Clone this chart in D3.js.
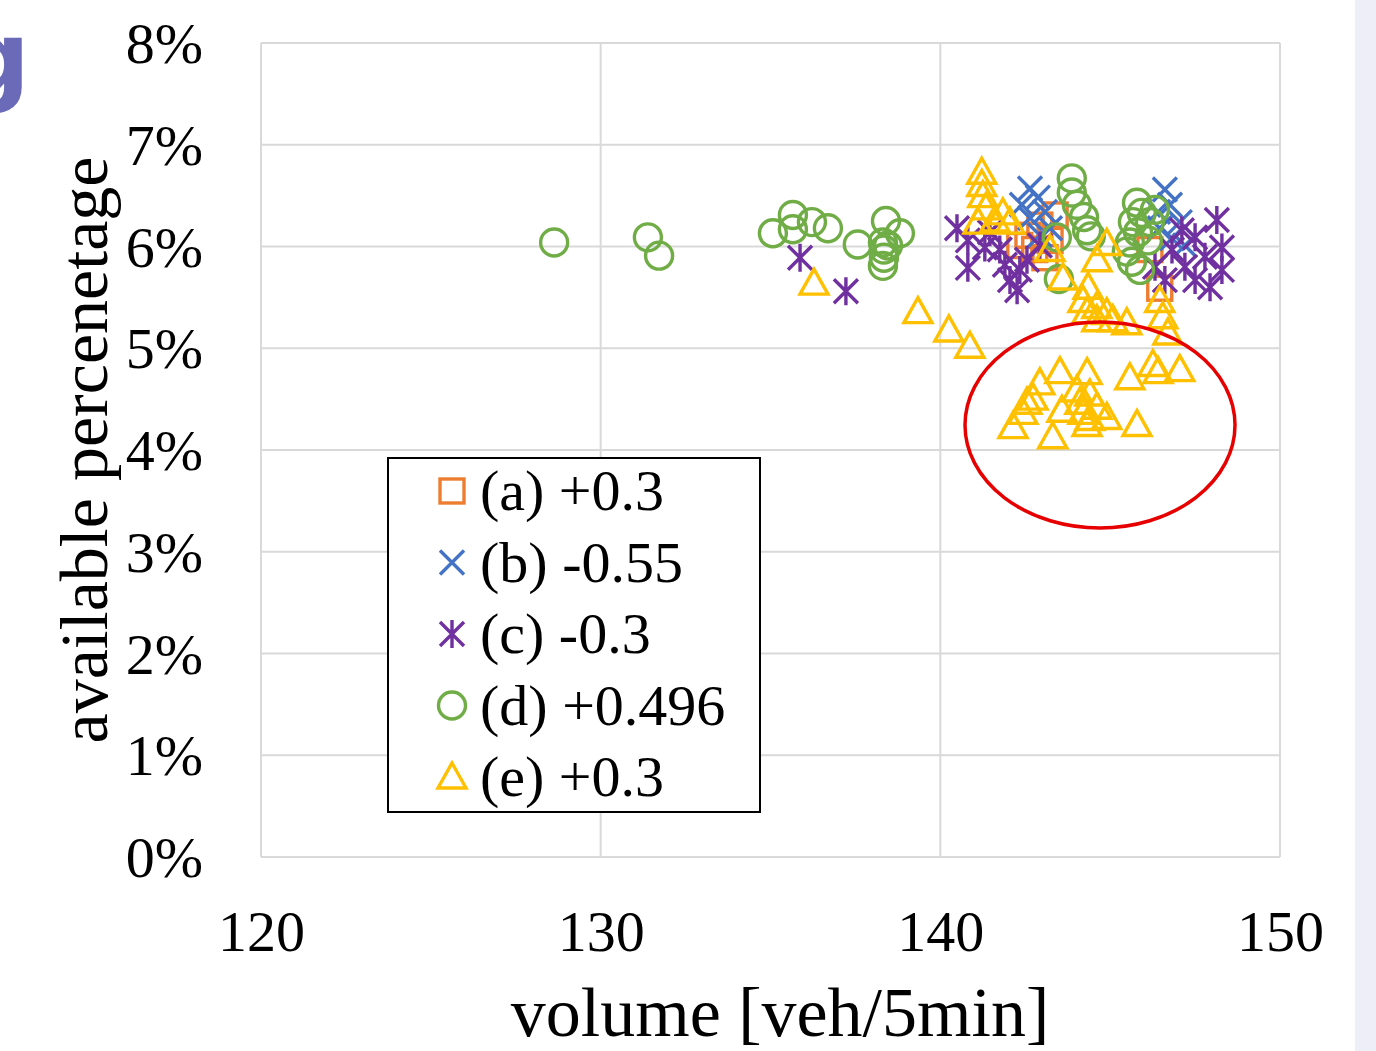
<!DOCTYPE html>
<html>
<head>
<meta charset="utf-8">
<script src="https://cdn.jsdelivr.net/npm/d3@7/dist/d3.min.js"></script>
<style>
  body { margin: 0; background: #fff; }
  svg { display: block; }
</style>
</head>
<body>
<svg id="chart" width="1376" height="1051"></svg>
<script>
// series values (volume, available %)
const aX = [142.93, 143.23, 142.78, 143.08, 142.58, 142.34, 146.46, 146.17, 143.38];
const aY = [6.21, 6.06, 5.97, 5.89, 6.11, 6.01, 5.59, 5.97, 6.31];

const bX = [142.64, 142.87, 142.40, 143.08, 142.64, 143.23, 142.93, 146.61, 146.76, 146.41, 147.05, 146.82, 146.46, 147.20];
const bY = [6.57, 6.48, 6.41, 6.34, 6.28, 6.18, 6.11, 6.56, 6.41, 6.34, 6.24, 6.08, 6.18, 6.01];

const cX = [135.87, 137.22, 140.49, 140.81, 140.81, 141.46, 141.75, 141.90, 142.05, 142.26, 142.55, 142.93, 141.31, 142.34,
            146.32, 146.82, 147.20, 147.50, 147.79, 148.14, 148.29, 148.29, 147.94, 146.61, 147.11, 147.50];
const cY = [5.89, 5.56, 6.18, 6.06, 5.79, 6.14, 5.97, 5.82, 5.67, 5.57, 5.87, 6.01, 5.99, 5.77,
            5.80, 5.97, 5.80, 6.09, 5.90, 6.26, 5.99, 5.77, 5.60, 5.67, 6.16, 5.67];

const dX = [128.63, 131.39, 131.72, 135.07, 135.66, 135.66, 136.22, 136.69, 137.57, 138.40, 138.81, 138.31, 138.34, 138.34, 138.31, 138.46,
            143.87, 143.87, 144.02, 144.23, 144.32, 144.43, 143.43, 143.49,
            145.79, 145.93, 145.67, 145.82, 145.58, 145.49, 145.64, 145.88, 146.17, 146.32, 146.11];
const dY = [6.04, 6.09, 5.91, 6.13, 6.31, 6.17, 6.24, 6.18, 6.02, 6.25, 6.13, 6.04, 5.97, 5.89, 5.81, 6.01,
            6.67, 6.53, 6.41, 6.29, 6.16, 6.10, 6.09, 5.68,
            6.43, 6.33, 6.24, 6.14, 6.04, 5.95, 5.85, 5.77, 6.24, 6.36, 6.06];

const eX = [136.28, 139.34, 140.25, 140.87,
            141.22, 141.22, 141.25, 141.34, 141.84, 142.05, 141.11, 141.61, 143.23, 143.61, 144.61, 144.90, 144.35,
            144.20, 144.61, 144.32, 144.90, 145.49, 144.61, 145.08, 146.46, 146.55, 146.70,
            142.14, 142.55, 142.93, 143.52, 143.31, 144.32, 144.02, 144.11, 144.20, 144.40, 144.61, 144.90, 144.32,
            145.79, 145.58, 146.26, 146.41, 147.05, 142.43, 142.73, 144.40, 143.58];
const eY = [5.64, 5.36, 5.18, 5.02,
            6.73, 6.61, 6.50, 6.38, 6.33, 6.24, 6.24, 6.26, 5.97, 5.69, 5.87, 6.03, 5.60,
            5.47, 5.41, 5.36, 5.35, 5.25, 5.28, 5.28, 5.47, 5.31, 5.15,
            4.23, 4.47, 4.66, 4.77, 4.13, 4.76, 4.59, 4.47, 4.37, 4.31, 4.42, 4.32, 4.25,
            4.25, 4.71, 4.84, 4.77, 4.79, 4.37, 4.51, 4.55, 4.39];

const legendLabels = ["(a) +0.3", "(b) -0.55", "(c) -0.3", "(d) +0.496", "(e) +0.3"];
const xTicks = [120, 130, 140, 150];
const yTicks = [0, 1, 2, 3, 4, 5, 6, 7, 8];

const series = [
  { xs: aX, ys: aY, shape: "square",   color: "#ED7D31" },
  { xs: bX, ys: bY, shape: "cross",    color: "#4472C4" },
  { xs: cX, ys: cY, shape: "asterisk", color: "#7030A0" },
  { xs: dX, ys: dY, shape: "circle",   color: "#70AD47" },
  { xs: eX, ys: eY, shape: "triangle", color: "#FFC000" }
];

const svg = d3.select("#chart");
const serif = "'Liberation Serif', 'Times New Roman', serif";

// background pieces from the slide
svg.append("rect").attr("x", 1355).attr("y", 0).attr("width", 21).attr("height", 1051).attr("fill", "#eeeef8");
svg.append("text").attr("x", 30).attr("y", 92).attr("text-anchor", "end")
  .attr("font-family", "'DejaVu Sans', sans-serif").attr("font-weight", "bold")
  .attr("font-size", 100).attr("fill", "#6a6ab8").text("g");

const x = d3.scaleLinear().domain([120, 150]).range([261, 1280]);
const y = d3.scaleLinear().domain([0, 8]).range([857, 43]);

// grid
svg.append("g").selectAll("line").data(yTicks).join("line")
  .attr("x1", 261).attr("x2", 1280)
  .attr("y1", d => y(d)).attr("y2", d => y(d))
  .attr("stroke", "#d9d9d9").attr("stroke-width", 2);
svg.append("g").selectAll("line").data(xTicks).join("line")
  .attr("x1", d => x(d)).attr("x2", d => x(d))
  .attr("y1", 43).attr("y2", 857)
  .attr("stroke", "#d9d9d9").attr("stroke-width", 2);

// axes via d3, then restyle
const xAxis = svg.append("g").attr("transform", "translate(0,857)")
  .call(d3.axisBottom(x).tickValues(xTicks).tickSize(0).tickPadding(74).tickFormat(d3.format("d")));
const yAxis = svg.append("g").attr("transform", "translate(261,0)")
  .call(d3.axisLeft(y).tickValues(yTicks).tickSize(0).tickPadding(58).tickFormat(d => d + "%"));
[xAxis, yAxis].forEach(g => {
  g.select(".domain").remove();
  g.selectAll("text").attr("font-family", serif).attr("font-size", 58).attr("fill", "#000");
});
yAxis.selectAll("text").attr("dy", "0.34em");
xAxis.selectAll("text").attr("dy", "0.34em");

// marker drawing
function drawMarker(g, shape, color) {
  const sw = 3.4;
  if (shape === "square") {
    g.append("rect").attr("x", -12).attr("y", -12).attr("width", 24).attr("height", 24)
      .attr("fill", "none").attr("stroke", color).attr("stroke-width", sw);
  } else if (shape === "circle") {
    g.append("circle").attr("r", 13.5).attr("fill", "none").attr("stroke", color).attr("stroke-width", sw);
  } else if (shape === "triangle") {
    g.append("path").attr("d", "M0,-14L14,11L-14,11Z")
      .attr("fill", "none").attr("stroke", color).attr("stroke-width", sw).attr("stroke-linejoin", "miter");
  } else {
    let d = "M-12,-12L12,12M-12,12L12,-12";
    if (shape === "asterisk") d += "M0,-14L0,14";
    g.append("path").attr("d", d).attr("fill", "none").attr("stroke", color).attr("stroke-width", sw);
  }
}

series.forEach(s => {
  const pts = s.xs.map((v, i) => [v, s.ys[i]]);
  svg.append("g").selectAll("g").data(pts).join("g")
    .attr("transform", d => `translate(${x(d[0])},${y(d[1])})`)
    .each(function () { drawMarker(d3.select(this), s.shape, s.color); });
});

// axis titles
svg.append("text").attr("x", 780).attr("y", 1036).attr("text-anchor", "middle")
  .attr("font-family", serif).attr("font-size", 70).text("volume [veh/5min]");
svg.append("text").attr("transform", "translate(107,450) rotate(-90)").attr("text-anchor", "middle")
  .attr("font-family", serif).attr("font-size", 68).text("available percenetage");

// legend
const legend = svg.append("g");
legend.append("rect").attr("x", 388).attr("y", 458).attr("width", 372).attr("height", 354)
  .attr("fill", "#fff").attr("stroke", "#000").attr("stroke-width", 2);
const rows = legend.selectAll("g.row").data(series).join("g").attr("class", "row")
  .attr("transform", (d, i) => `translate(452,${491 + i * 71.5})`);
rows.each(function (d) { drawMarker(d3.select(this), d.shape, d.color); });
rows.append("text").attr("x", 28).attr("y", 19)
  .attr("font-family", serif).attr("font-size", 58).attr("fill", "#000")
  .text((d, i) => legendLabels[i]);

// red highlight ellipse
svg.append("ellipse").attr("cx", 1100).attr("cy", 425).attr("rx", 135).attr("ry", 103)
  .attr("fill", "none").attr("stroke", "#e60000").attr("stroke-width", 3.5);
</script>
</body>
</html>
